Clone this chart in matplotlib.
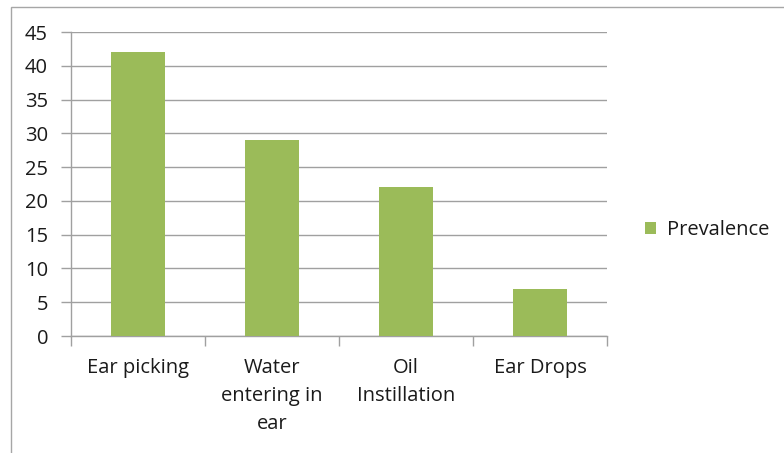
import matplotlib
matplotlib.use("Agg")
import matplotlib.pyplot as plt
from matplotlib.patches import Rectangle, Patch

categories = ["Ear picking", "Water\nentering in\near", "Oil\nInstillation", "Ear Drops"]
values = [42, 29, 22, 7]
yticks = [0, 5, 10, 15, 20, 25, 30, 35, 40, 45]
series_name = "Prevalence"

plt.rcParams['font.family'] = ['Open Sans', 'DejaVu Sans']
W, H = 784, 453
fig = plt.figure(figsize=(W/100, H/100), dpi=100)

# chart border
fig.patches.append(Rectangle((10.5/W, -0.1), 2.0, (H-7.5)/H + 0.1, transform=fig.transFigure,
                             fill=False, edgecolor='#A6A6A6', linewidth=1.0))

ax = fig.add_axes([71/W, (H-336)/H, (607-71)/W, (336-32)/H])
green = '#9BBB59'
x = list(range(len(categories)))
ax.bar(x, values, width=0.4, color=green, zorder=3)
ax.set_xlim(-0.5, len(categories)-0.5)
ax.set_ylim(0, 45)
ax.set_yticks(yticks)
ax.set_yticklabels([str(t) for t in yticks], fontsize=14.5, color='#1a1a1a')
ax.yaxis.grid(True, color='#A0A0A0', linewidth=1.0, zorder=0)
ax.tick_params(axis='y', length=7, color='#A0A0A0', width=1.0, pad=9.5)
ax.set_xticks([i - 0.5 for i in range(len(categories)+1)], minor=False)
ax.set_xticklabels([])
ax.tick_params(axis='x', length=7, color='#A0A0A0', width=1.0)
for i, c in enumerate(categories):
    ax.text(i, -3.2, c, ha='center', va='top', fontsize=14.5, color='#1a1a1a',
            linespacing=1.56, transform=ax.transData)
for s in ['top', 'right']:
    ax.spines[s].set_visible(False)
for s in ['left', 'bottom']:
    ax.spines[s].set_color('#A0A0A0')
    ax.spines[s].set_linewidth(1.0)

handle = Patch(facecolor=green, edgecolor='none')
fig.legend([handle], [series_name], loc='center left', bbox_to_anchor=(627/W, (H-230)/H),
           frameon=False, fontsize=14.5, handlelength=0.55, handleheight=0.55,
           handletextpad=0.55, labelcolor='#1a1a1a')

fig.savefig("out.png", dpi=100)
